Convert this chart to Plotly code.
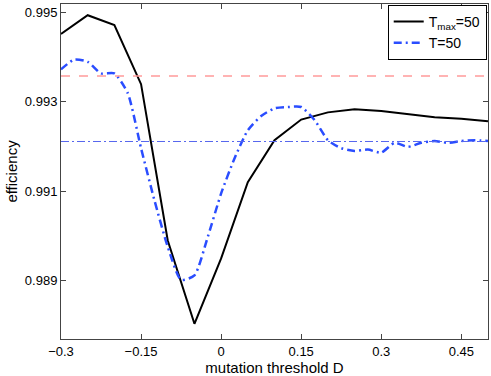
import plotly.graph_objects as go

# mutation threshold D
d_tmax = [-0.3, -0.25, -0.2, -0.15, -0.1, -0.05, 0.0, 0.05, 0.1, 0.15,
          0.2, 0.25, 0.3, 0.35, 0.4, 0.45, 0.5]
eff_tmax = [0.99451, 0.99493, 0.99471, 0.99339, 0.98990, 0.98804, 0.98950,
            0.99120, 0.99214, 0.99260, 0.99276, 0.99283, 0.99279, 0.99272,
            0.99265, 0.99262, 0.99256]

d_t = [-0.3, -0.275, -0.25, -0.225, -0.2, -0.175, -0.15, -0.125, -0.1,
       -0.075, -0.05, -0.025, 0.0, 0.025, 0.05, 0.075, 0.1, 0.125, 0.15,
       0.175, 0.2, 0.225, 0.25, 0.275, 0.3, 0.325, 0.35, 0.375, 0.4,
       0.425, 0.45, 0.475, 0.5]
eff_t = [0.99372, 0.99394, 0.99389, 0.99363, 0.99363, 0.99319, 0.99196,
         0.99080, 0.98976, 0.98902, 0.98912, 0.98998, 0.99095, 0.99173,
         0.99236, 0.99268, 0.99285, 0.99288, 0.99288, 0.99259, 0.99214,
         0.99196, 0.99190, 0.99193, 0.99186, 0.99208, 0.99199, 0.99208,
         0.99212, 0.99208, 0.99212, 0.99214, 0.99212]

ref_red = 0.99357
ref_blue = 0.99211

fig = go.Figure()

fig.add_hline(y=ref_red, line=dict(color="#ff9a9a", width=1.5, dash="dash"))
fig.add_hline(y=ref_blue, line=dict(color="#5566ee", width=1,
                                    dash="8px,3px,2px,3px"))

fig.add_trace(go.Scatter(
    x=d_tmax, y=eff_tmax, mode="lines", name="T<sub>max</sub>=50",
    line=dict(color="black", width=2)
))
fig.add_trace(go.Scatter(
    x=d_t, y=eff_t, mode="lines", name="T=50",
    line=dict(color="#2a4dff", width=2.5, dash="8px,4px,2px,4px",
              shape="spline", smoothing=0.6)
))

axis_style = dict(
    showgrid=False, zeroline=False, showline=True, linecolor="#444",
    linewidth=1, mirror="ticks", ticks="inside", ticklen=5,
    tickcolor="#444", tickfont=dict(size=13, color="black"),
)

fig.update_xaxes(
    range=[-0.3, 0.5], tickvals=[-0.3, -0.15, 0, 0.15, 0.3, 0.45],
    ticktext=["\u22120.3", "\u22120.15", "0", "0.15", "0.3", "0.45"],
    title=dict(text="mutation threshold D", font=dict(size=15, color="black"),
               standoff=1),
    **axis_style
)
fig.update_yaxes(
    range=[0.9877, 0.99518], tickvals=[0.989, 0.991, 0.993, 0.995],
    ticktext=["0.989", "0.991", "0.993", "0.995"],
    title=dict(text="efficiency", font=dict(size=15, color="black"),
               standoff=3),
    **axis_style
)

fig.update_layout(
    width=491, height=376,
    margin=dict(l=61, r=3, t=4, b=37, autoexpand=False),
    plot_bgcolor="white", paper_bgcolor="white",
    font=dict(family="Liberation Sans, Arial, sans-serif", color="black"),
    legend=dict(
        x=0.997, y=0.997, xanchor="right", yanchor="top",
        bordercolor="black", borderwidth=1, bgcolor="white",
        font=dict(size=14), tracegroupgap=0, itemwidth=30,
    ),
)

# page body has a default 8px margin; drop it so the chart fills the window
fig.write_html("out.html", config={"displayModeBar": False},
               post_script="document.body.style.margin='0';")
